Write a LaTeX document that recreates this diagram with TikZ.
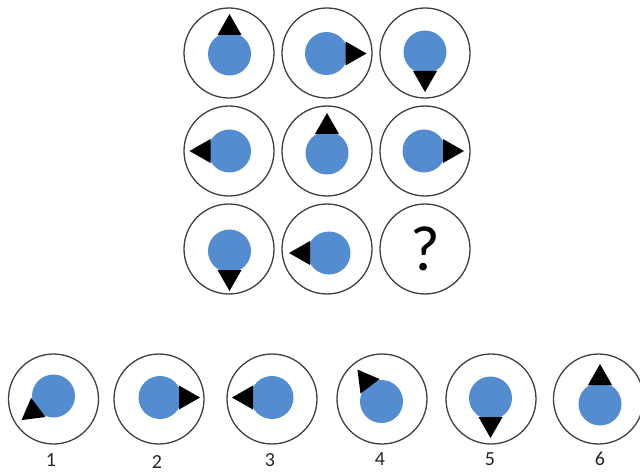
\documentclass[tikz,border=0pt]{standalone}
\usepackage{fontspec}
\setmainfont{Carlito}
\usepackage{tikz}
\usetikzlibrary{positioning}

\definecolor{discblue}{RGB}{83,141,207}
\newcommand{\pointer}[2]{\fill[black,shift={(#1)},rotate=#2] (19,-12) -- (40,0) -- (19,12) -- cycle;}

\begin{document}
\begin{tikzpicture}[x=1pt,y=1pt,
        ring/.style={circle,draw=black!75,line width=1.3pt,fill=white,minimum size=90pt,inner sep=0pt},
        disc/.style={circle,fill=discblue,minimum size=43pt,inner sep=0pt},
        num/.style={font=\fontsize{20}{20}\selectfont,text=black!85,inner sep=0pt}]
        \useasboundingbox (0,0) rectangle (640,472);

        % matrix of the puzzle
        \node[ring] (q11) at (229,419) {};
        \node[ring] (q12) at (327,419) {};
        \node[ring] (q13) at (425,419) {};
        \node[ring] (q21) at (229,321) {};
        \node[ring] (q22) at (327,321) {};
        \node[ring] (q23) at (425,321) {};
        \node[ring] (q31) at (229,223) {};
        \node[ring] (q32) at (327,223) {};
        \node[ring] (q33) at (425,223) {};

        \node[disc] (d11) at (229.5,418) {};
        \node[disc] (d12) at (326.5,418.5) {};
        \node[disc] (d13) at (425,420) {};
        \node[disc] (d21) at (229.5,321) {};
        \node[disc] (d22) at (327,319) {};
        \node[disc] (d23) at (424,321) {};
        \node[disc] (d31) at (229.5,221) {};
        \node[disc] (d32) at (329,219) {};
        \node[font=\fontsize{64}{64}\selectfont] (qm) at (425,223) {?};

        \pointer{d11}{90}
        \pointer{d12}{0}
        \pointer{d13}{270}
        \pointer{d21}{180}
        \pointer{d22}{90}
        \pointer{d23}{0}
        \pointer{d31}{270}
        \pointer{d32}{180}

        % answers
        \node[ring] (a1) at (53.5,73) {};
        \node[ring] (a2) at (159,73) {};
        \node[ring] (a3) at (272,73) {};
        \node[ring] (a4) at (382,73) {};
        \node[ring] (a5) at (491,73) {};
        \node[ring] (a6) at (598.5,73) {};

        \node[disc] (b1) at (53.5,76) {};
        \node[disc] (b2) at (160,74.5) {};
        \node[disc] (b3) at (272,74.5) {};
        \node[disc] (b4) at (381.5,70.5) {};
        \node[disc] (b5) at (490.5,74) {};
        \node[disc] (b6) at (600,68) {};

        \pointer{b1}{217}
        \pointer{b2}{0}
        \pointer{b3}{180}
        \pointer{b4}{127}
        \pointer{b5}{270}
        \pointer{b6}{90}

        \node[num] (l1) at (51,12) {1};
        \node[num] (l2) at (157,10) {2};
        \node[num] (l3) at (270,12) {3};
        \node[num] (l4) at (380,13) {4};
        \node[num] (l5) at (490,13) {5};
        \node[num] (l6) at (600,13) {6};
\end{tikzpicture}
\end{document}
